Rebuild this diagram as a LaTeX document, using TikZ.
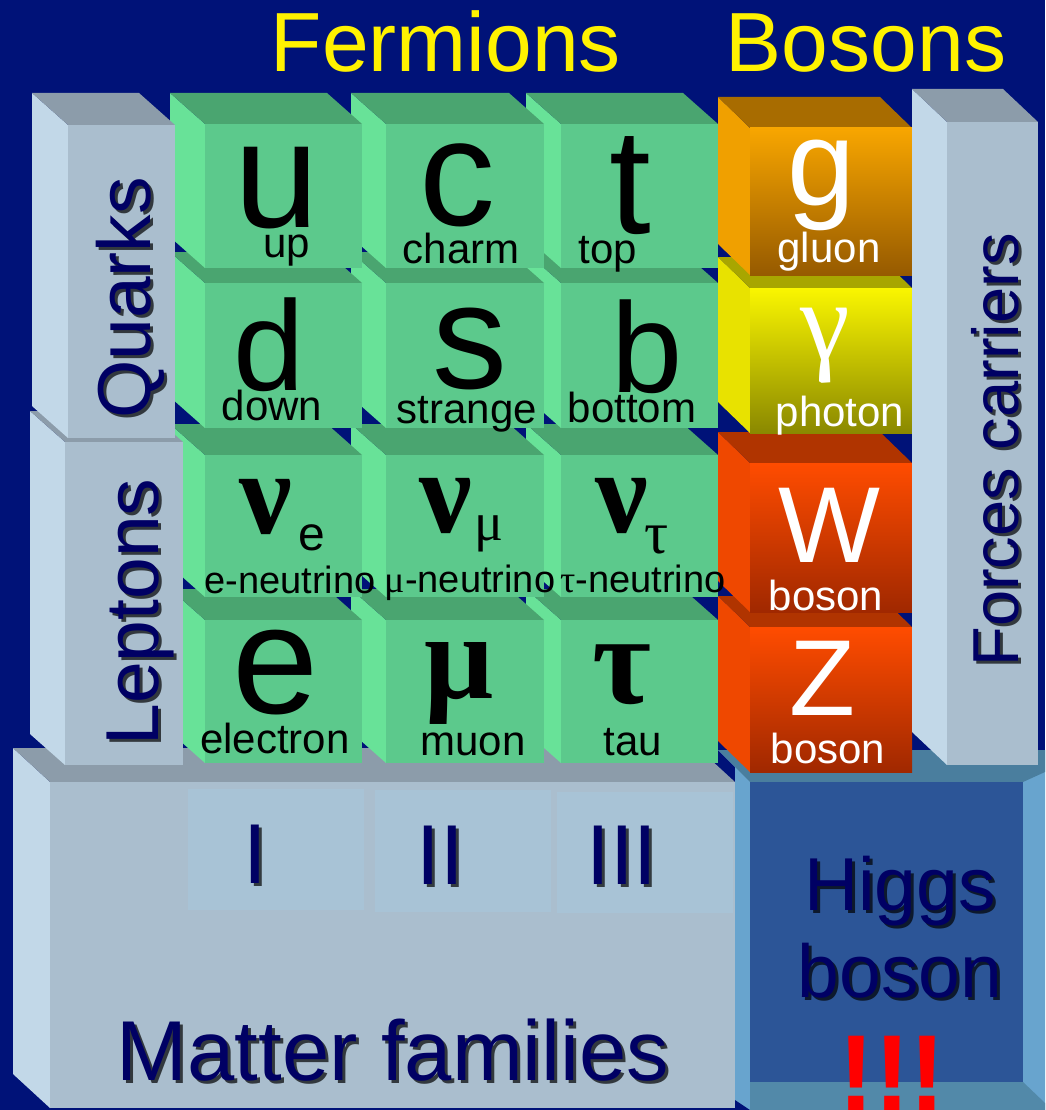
\documentclass[tikz,border=0pt]{standalone}
\usepackage{fontspec}
\setmainfont{Liberation Sans}
\newfontfamily\grk{Liberation Serif}
\definecolor{bg}{RGB}{0,18,120}
\definecolor{gfront}{RGB}{92,201,140}
\definecolor{gleft}{RGB}{104,226,152}
\definecolor{gtop}{RGB}{74,165,112}
\definecolor{lfront}{RGB}{170,190,206}
\definecolor{lleft}{RGB}{194,216,232}
\definecolor{ltop}{RGB}{140,156,170}
\definecolor{famrect}{RGB}{168,195,214}
\definecolor{navytxt}{RGB}{0,0,100}
\definecolor{hfront}{RGB}{44,85,151}
\definecolor{hlight}{RGB}{104,164,206}
\definecolor{htop}{RGB}{74,126,158}
\definecolor{hbot}{RGB}{82,137,169}
\definecolor{gluA}{RGB}{248,166,0}
\definecolor{gluB}{RGB}{150,90,0}
\definecolor{gluL}{RGB}{240,160,0}
\definecolor{gluT}{RGB}{168,108,0}
\definecolor{phoA}{RGB}{250,246,0}
\definecolor{phoB}{RGB}{138,136,0}
\definecolor{phoL}{RGB}{232,226,0}
\definecolor{phoT}{RGB}{168,166,0}
\definecolor{wzA}{RGB}{255,76,0}
\definecolor{wzB}{RGB}{160,40,0}
\definecolor{wzL}{RGB}{239,72,0}
\definecolor{wzT}{RGB}{176,52,0}
\newcommand\fsz[1]{\fontsize{#1}{#1}\selectfont}
% #1 x0, #2 y0, #3 x1, #4 y1, #5 dx, #6 dy, #7 left, #8 top, #9 front style
\newcommand\cubebox[9]{%
  \fill[#7] (#1,#2) -- (#1,#4) -- ({#1-#5},{#4-#6}) -- ({#1-#5},{#2-#6}) -- cycle;
  \fill[#8] (#1,#2) -- (#3,#2) -- ({#3-#5},{#2-#6}) -- ({#1-#5},{#2-#6}) -- cycle;
  \fill[#9] (#1,#2) rectangle (#3,#4);
}
\newcommand\gcube[4]{\cubebox{#1}{#2}{#3}{#4}{35}{31}{gleft}{gtop}{gfront}}
% shadowed navy text: #1 name, #2 options, #3 x, #4 y, #5 text
\newcommand\shadowtext[5]{%
  \node[#2, text=black, opacity=0.7] at ({#3+3},{#4+3}) {#5};
  \node[#2, text=navytxt] (#1) at (#3,#4) {#5};
}
\begin{document}
\begin{tikzpicture}[x=1pt,y=-1pt,
  every node/.style={inner sep=0pt,outer sep=0pt},
  lbl/.style={anchor=base,font=\fsz{42}},
  big/.style={anchor=base,font=\fsz{#1}},
  gbig/.style={anchor=base,font=\fsz{#1}\grk\bfseries},
  vlbl/.style={anchor=base,rotate=90,font=\fsz{#1}},
  wlbl/.style={anchor=base,font=\fsz{42},text=white}]
\fill[bg] (0,0) rectangle (1045,1110);
\useasboundingbox (0,0) rectangle (1045,1110);

% ---------- Higgs box ----------
\fill[hlight] (718,750) -- (1045,750) -- (1045,1110) -- (735,1110) -- (735,767) -- cycle;
\fill[htop] (718,750) -- (1045,750) -- (1045,772) -- (1023,782) -- (750,782) -- cycle;
\fill[hbot] (750,1082) -- (1023,1082) -- (1045,1103) -- (1045,1110) -- (750,1110) -- cycle;
\fill[bg] (735,1100) -- (750,1110) -- (735,1110) -- cycle;
\fill[hfront] (750,782) rectangle (1023,1082);

% ---------- Matter families box ----------
\cubebox{50}{782}{735}{1108}{37}{34}{lleft}{ltop}{lfront}
\fill[famrect] (188,789) rectangle (364,910);
\fill[famrect] (375,790) rectangle (551,912);
\fill[famrect] (557,792) rectangle (733,913);

% ---------- fermion cubes ----------
\foreach \ya/\yb in {620/763, 455/597, 283/428, 124/268} {
  \foreach \xa/\xb in {561/718, 386/544, 205/362} {
    \gcube{\xa}{\ya}{\xb}{\yb}
  }
}

% ---------- boson cubes ----------
\cubebox{750}{627}{912}{772}{32}{31}{wzL}{wzT}{top color=wzA,bottom color=wzB}
\cubebox{750}{463}{912}{612}{32}{31}{wzL}{wzT}{top color=wzA,bottom color=wzB}
\cubebox{750}{288}{912}{433}{32}{31}{phoL}{phoT}{top color=phoA,bottom color=phoB}
\cubebox{750}{128}{912}{275}{32}{31}{gluL}{gluT}{top color=gluA,bottom color=gluB}

% ---------- label columns ----------
\cubebox{65}{442}{183}{765}{35}{31}{lleft}{ltop}{lfront}
\cubebox{68}{125}{175}{438}{36}{32}{lleft}{ltop}{lfront}
\cubebox{947}{122}{1038}{765}{35}{33}{lleft}{ltop}{lfront}

% ---------- titles ----------
\node[big=84, text=yellow] (fermions) at (446,72) {Fermions};
\node[big=84, text=yellow] (bosons) at (866,72) {Bosons};

% ---------- quarks ----------
\node[big=152] (u) at (277,227) {u};
\node[lbl] (up) at (287,257) {up};
\node[big=152] (c) at (457,225) {c};
\node[lbl] (charm) at (461,263) {charm};
\node[big=150] (t) at (630,233) {t};
\node[lbl] (top) at (608,263) {top};
\node[big=128] (d) at (269,390) {d};
\node[lbl] (down) at (272,420) {down};
\node[big=150] (s) at (470,388) {s};
\node[lbl] (strange) at (467,423) {strange};
\node[big=128] (b) at (647,392) {b};
\node[lbl] (bottom) at (632,422) {bottom};

% ---------- leptons ----------
\node[gbig=118] (nue) at (266,533) {ν};
\node[big=48] (nuesub) at (312,550) {e};
\node[anchor=base, font=\fsz{38}] (nuelbl) at (290,593) {e-neutrino};
\node[gbig=118] (num) at (446,532) {ν};
\node[big=54, font=\fsz{54}\grk] (numsub) at (489,540) {μ};
\node[anchor=base, font=\fsz{38}] (numlbl) at (470,592) {{\grk μ}-neutrino};
\node[gbig=118] (nut) at (622,532) {ν};
\node[big=60, font=\fsz{60}\grk] (nutsub) at (657,553) {τ};
\node[anchor=base, font=\fsz{38}] (nutlbl) at (643,592) {{\grk τ}-neutrino};
\node[big=155] (e) at (276,713) {e};
\node[lbl] (electron) at (275,753) {electron};
\node[gbig=122] (mu) at (459,698) {μ};
\node[lbl] (muon) at (473,755) {muon};
\node[gbig=128] (tau) at (622,703) {τ};
\node[lbl] (taulbl) at (633,755) {tau};

% ---------- bosons ----------
\node[big=122, text=white] (g) at (821,205) {g};
\node[wlbl] (gluon) at (829,262) {gluon};
\node[big=112, font=\fsz{112}\grk, text=white] (gamma) at (825,359) {γ};
\node[wlbl] (photon) at (840,426) {photon};
\node[big=108, text=white] (W) at (829,562) {W};
\node[wlbl] (wboson) at (826,610) {boson};
\node[big=108, text=white] (Z) at (822,715) {Z};
\node[wlbl] (zboson) at (828,763) {boson};

% ---------- navy labels ----------
\shadowtext{quarks}{vlbl=75}{150}{298}{Quarks}
\shadowtext{leptons}{vlbl=75}{158}{612}{Leptons}
\shadowtext{forces}{vlbl=65}{1018}{450}{Forces carriers}
\shadowtext{famI}{big=85}{255}{883}{I}
\shadowtext{famII}{big=85}{440}{884}{II}
\shadowtext{famIII}{big=85}{622}{884}{III}
\shadowtext{matter}{big=85}{393}{1080}{Matter families}
\shadowtext{higgs}{big=75}{900}{910}{Higgs}
\shadowtext{hboson}{big=75}{900}{997}{boson}
\node[anchor=base, font=\fsz{108}\bfseries, text=red] (excl) at (892,1110) {!!!};
\end{tikzpicture}
\end{document}
